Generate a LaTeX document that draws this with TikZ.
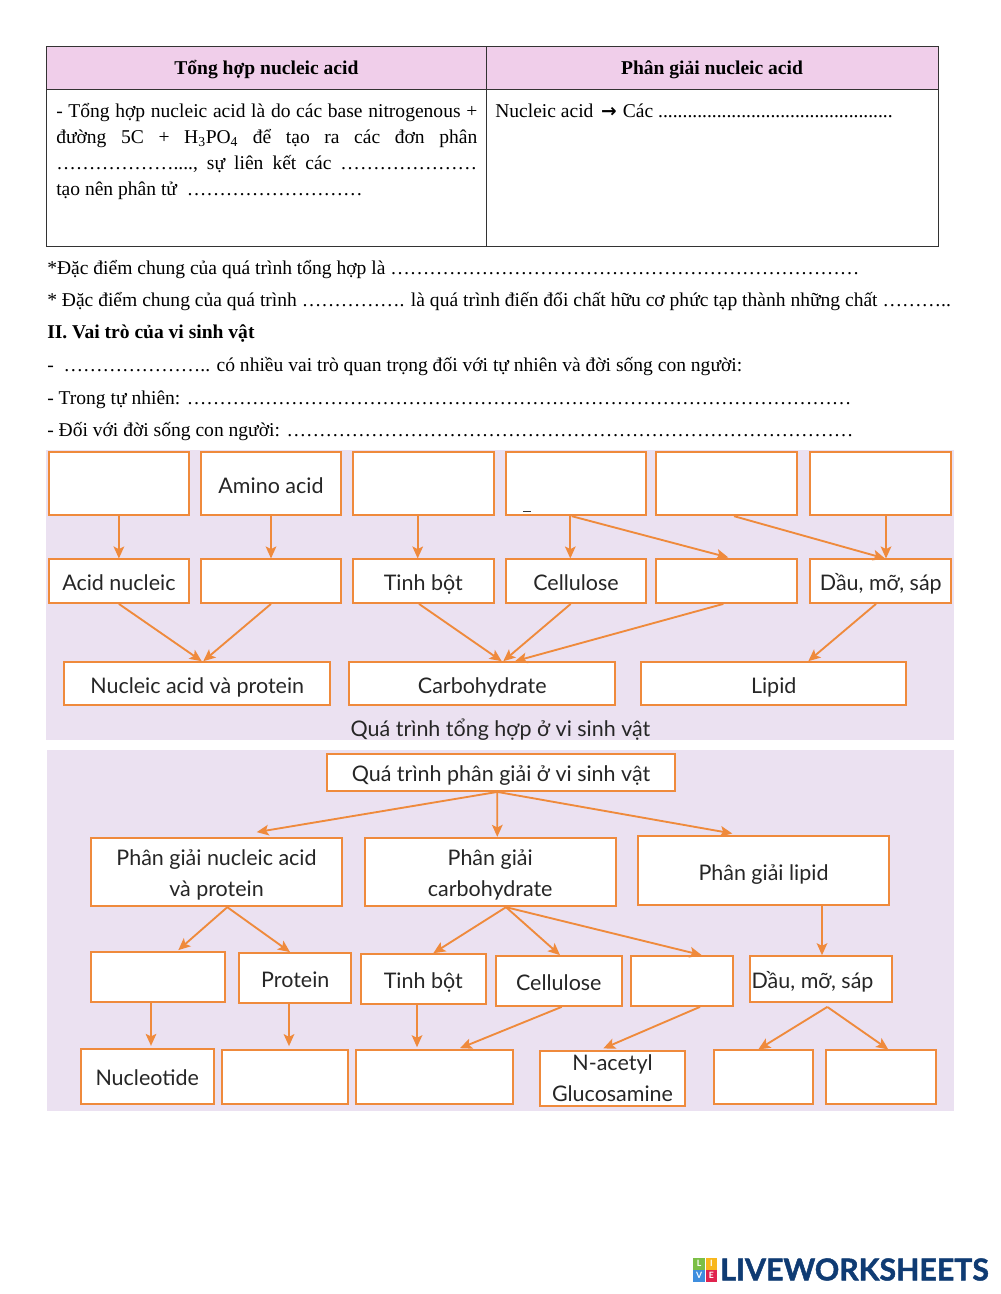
\documentclass[tikz,border=0pt]{standalone}
\usepackage{fontspec}
\setmainfont{Liberation Serif}
\newfontfamily\diagfont{Lato}
\newfontfamily\logofont[BoldFeatures={FakeBold=1.5}]{Lato}
\newfontfamily\arrowfont{DejaVu Sans}
\usetikzlibrary{arrows.meta}
\definecolor{orbord}{HTML}{EF8A3C}
\definecolor{lilac}{HTML}{EBE1F1}
\definecolor{headpink}{HTML}{F0CEEA}
\definecolor{inkblue}{HTML}{0F3B73}
\definecolor{tilegreen}{HTML}{7BBF45}
\definecolor{tileyellow}{HTML}{F8B71C}
\definecolor{tileblue}{HTML}{3E8EDE}
\definecolor{tilered}{HTML}{E0234E}

\begin{document}
\begin{tikzpicture}[
    x=0.75pt, y=-0.75pt,
    orbase/.style 2 args={rectangle, draw=orbord, fill=white, line width=1.3pt, inner sep=0pt, align=center, text=black!85,
        minimum width=#1*0.75pt, minimum height=#2*0.75pt, font=\diagfont\fontsize{16.1}{23.25}\selectfont},
    orbox/.style 2 args={orbase={#1}{#2}, text height=18pt, text depth=4pt},
    cell/.style 2 args={rectangle, draw=black!80, line width=0.6pt, inner sep=0pt,
        minimum width=#1*0.75pt, minimum height=#2*0.75pt},
    para/.style={anchor=base west, inner sep=0pt, font=\fontsize{14.66}{19.5}\selectfont},
    headtext/.style={anchor=base, inner sep=0pt, font=\fontsize{14.66}{18}\selectfont\bfseries},
    tile/.style={rectangle, inner sep=0pt, minimum size=8.6pt, text=white, font=\diagfont\bfseries\fontsize{6.5}{7}\selectfont},
    arr/.style={draw=orbord, line width=1.4pt, -{Stealth[length=9pt,width=8pt,inset=2pt]}}
    ]
    \useasboundingbox (0,0) rectangle (1000,1294);

    % table
    \node [cell={440.2}{43.5},fill=headpink] (h1) at (266.4,67.8) {};
    \node [cell={451.5}{43.5},fill=headpink] (h2) at (712.2,67.8) {};
    \node [cell={440.2}{156.5}] (g1) at (266.4,168) {};
    \node [cell={451.5}{156.5}] (g2) at (712.2,168) {};
    \node [headtext] (h1t) at (266.4,74.5) {Tổng hợp nucleic acid};
    \node [headtext] (h2t) at (712,74.5) {Phân giải nucleic acid};
    \node [para,text width=421*0.75pt,align=justify] (g1t) at (56,118) {- Tổng hợp nucleic acid là do các base nitrogenous +\linebreak
        đường 5C + H\textsubscript{3}PO\textsubscript{4} để tạo ra các đơn phân\linebreak
        ………………....,\ sự liên kết các …………………\linebreak
        tạo nên phân tử\ \ ………………………};
    \node [para] (g2t) at (495,118) {Nucleic acid\hspace{2pt} {\arrowfont\bfseries\fontsize{14}{14}\selectfont →}\hspace{1pt} Các ................................................};

    % lines under the table
    \node [para] (l1) at (47,275) {*Đặc điểm chung của quá trình tổng hợp là ………………………………………………………………};
    \node [para] (l2) at (47,306.5) {* Đặc điểm chung của quá trình ……………. là quá trình điến đổi chất hữu cơ phức tạp thành những chất ………..};
    \node [para] (l3) at (47,338.5) {\bfseries II. Vai trò của vi sinh vật};
    \node [para] (l4) at (47,371) {-\ \ ………………….. có nhiều vai trò quan trọng đối với tự nhiên và đời sống con người:};
    \node [para] (l5) at (47,404) {- Trong tự nhiên: …………………………………………………………………………………………};
    \node [para] (l6) at (47,436) {- Đối với đời sống con người: ……………………………………………………………………………};

    % synthesis panel
    \fill [lilac] (46,450) rectangle (954,740);
    \node [orbox={140.3}{63}] (a1) at (118.9,483.8) {};
    \node [orbox={140.6}{63}] (a2) at (271,483.8) {Amino acid};
    \node [orbox={140.7}{63}] (a3) at (423.3,483.8) {};
    \node [orbox={140.6}{63}] (a4) at (576,483.8) {};
    \node [orbox={140.7}{63}] (a5) at (726.7,483.8) {};
    \node [orbox={141}{63}] (a6) at (880.8,483.8) {};
    \fill [black!80] (523,511) rectangle (531,512);

    \node [orbox={140.3}{43.7}] (b1) at (118.9,581.2) {Acid nucleic};
    \node [orbox={140.6}{43.7}] (b2) at (271,581.2) {};
    \node [orbox={140.7}{43.7}] (b3) at (423.3,581.2) {Tinh bột};
    \node [orbox={140.6}{43.7}] (b4) at (576,581.2) {Cellulose};
    \node [orbox={140.7}{43.7}] (b5) at (726.7,581.2) {};
    \node [orbox={141}{43.7}] (b6) at (880.8,581.2) {Dầu, mỡ, sáp};

    \node [orbox={265.7}{43.3}] (c1) at (197.2,683.7) {Nucleic acid và protein};
    \node [orbox={266}{43.3}] (c2) at (482.3,683.7) {Carbohydrate};
    \node [orbox={265.3}{43.3}] (c3) at (773.7,683.7) {Lipid};
    \node [anchor=base,inner sep=0pt,text=black!85,font=\diagfont\fontsize{16.1}{23}\selectfont] (t1) at (500.5,736.5) {Quá trình tổng hợp ở vi sinh vật};
    \fill [white] (40,740) rectangle (960,749.5);

    \draw [arr] (a1.south) -- (b1.north);
    \draw [arr] (a2.south) -- (b2.north);
    \draw [arr] ([shift={(-5.6,0)}]a3.south) -- ([shift={(-5.6,0)}]b3.north);
    \draw [arr] ([shift={(-5.7,0)}]a4.south) -- ([shift={(-5.7,0)}]b4.north);
    \draw [arr] ([shift={(-4.3,0)}]a4.south) -- ([shift={(1.6,-1)}]b5.north);
    \draw [arr] ([shift={(7.3,0)}]a5.south) -- ([shift={(4.2,0)}]b6.north);
    \draw [arr] ([shift={(5.2,0)}]a6.south) -- ([shift={(5.2,0)}]b6.north);

    \draw [arr] (b1.south) -- ([shift={(4.5,0)}]c1.north);
    \draw [arr] (b2.south) -- ([shift={(6.1,0)}]c1.north);
    \draw [arr] ([shift={(-4.3,0)}]b3.south) -- ([shift={(19.4,0)}]c2.north);
    \draw [arr] ([shift={(-5.3,0)}]b4.south) -- ([shift={(21,0)}]c2.north);
    \draw [arr] ([shift={(-3.4,0)}]b5.south) -- ([shift={(32.7,0)}]c2.north);
    \draw [arr] ([shift={(-4.8,0)}]b6.south) -- ([shift={(34.6,0)}]c3.north);

    % breakdown panel
    \fill [lilac] (47,750) rectangle (954,1110.7);
    \node [orbox={348.6}{37.3}] (p0) at (501,772.4) {Quá trình phân giải ở vi sinh vật};

    \node [orbase={251}{68.6}] (d1) at (216.5,872) {\rule{0pt}{15.5pt}Phân giải nucleic acid\\và protein};
    \node [orbase={251}{68.6}] (d2) at (490.2,872) {\rule{0pt}{15.5pt}Phân giải\\carbohydrate};
    \node [orbox={251}{68.7}] (d3) at (763.5,870.7) {Phân giải lipid};

    \node [orbox={134}{50}] (e1) at (158,977) {};
    \node [orbox={112}{49.7}] (e2) at (295.3,977.8) {Protein};
    \node [orbox={125.3}{50.3}] (e3) at (423.3,979.2) {Tinh bột};
    \node [orbox={125.7}{50}] (e4) at (558.8,981) {Cellulose};
    \node [orbox={101.7}{50}] (e5) at (682.2,981) {};
    \node [orbox={141.7}{46.3}] (e6) at (821.2,979.2) {Dầu, mỡ, sáp\hspace*{13pt}};

    \node [orbox={133}{55}] (f1) at (147.2,1076.5) {Nucleotide};
    \node [orbox={125.7}{54}] (f2) at (285.2,1077) {};
    \node [orbox={157.3}{54.3}] (f3) at (434.7,1077.2) {};
    \node [orbase={145.6}{54.4}] (f4) at (612.5,1078.5) {N-acetyl\\Glucosamine};
    \node [orbox={98.4}{54}] (f5) at (763.5,1077.3) {};
    \node [orbox={110.3}{54}] (f6) at (880.8,1077.3) {};

    \draw [arr] ([shift={(-3.7,0)}]p0.south) -- ([shift={(40.2,-4.7)}]d1.north);
    \draw [arr] ([shift={(-3.7,0)}]p0.south) -- ([shift={(7.1,0)}]d2.north);
    \draw [arr] ([shift={(-3.7,0)}]p0.south) -- ([shift={(-31.2,-2)}]d3.north);

    \draw [arr] ([shift={(10.8,0)}]d1.south) -- ([shift={(20.3,-1)}]e1.north);
    \draw [arr] ([shift={(10.8,0)}]d1.south) -- ([shift={(-5.3,0)}]e2.north);
    \draw [arr] ([shift={(15.8,0)}]d2.south) -- ([shift={(10,0)}]e3.north);
    \draw [arr] ([shift={(15.8,0)}]d2.south) -- ([shift={(1.2,0)}]e4.north);
    \draw [arr] ([shift={(15.8,0)}]d2.south) -- ([shift={(19.5,0)}]e5.north);
    \draw [arr] ([shift={(58.5,0)}]d3.south) -- ([shift={(0.8,0)}]e6.north);

    \draw [arr] ([shift={(-7,0)}]e1.south) -- ([shift={(3.8,-2.3)}]f1.north);
    \draw [arr] ([shift={(-6.3,0)}]e2.south) -- ([shift={(3.8,-3)}]f2.north);
    \draw [arr] ([shift={(-6.3,0)}]e3.south) -- ([shift={(-17.7,-2)}]f3.north);
    \draw [arr] ([shift={(2.9,0)}]e4.south) -- ([shift={(25.3,-1)}]f3.north);
    \draw [arr] ([shift={(17.8,0)}]e5.south) -- ([shift={(-9.2,-2)}]f4.north);
    \draw [arr] ([shift={(6.1,3.7)}]e6.south) -- ([shift={(-5.2,0)}]f5.north);
    \draw [arr] ([shift={(6.1,3.7)}]e6.south) -- ([shift={(7.5,0)}]f6.north);

    % logo
    \node [tile,fill=tilegreen] (ll) at (699.2,1263.8) {L};
    \node [tile,fill=tileyellow] (li) at (711.4,1263.8) {I};
    \node [tile,fill=tileblue] (lv) at (699.2,1275.8) {V};
    \node [tile,fill=tilered] (le) at (711.4,1275.8) {E};
    \node [anchor=west,inner sep=0pt,text=inkblue,font=\logofont\bfseries\fontsize{22.7}{24}\selectfont] (lw) at (720,1269.5) {LIVEWORKSHEETS};
\end{tikzpicture}
\end{document}
